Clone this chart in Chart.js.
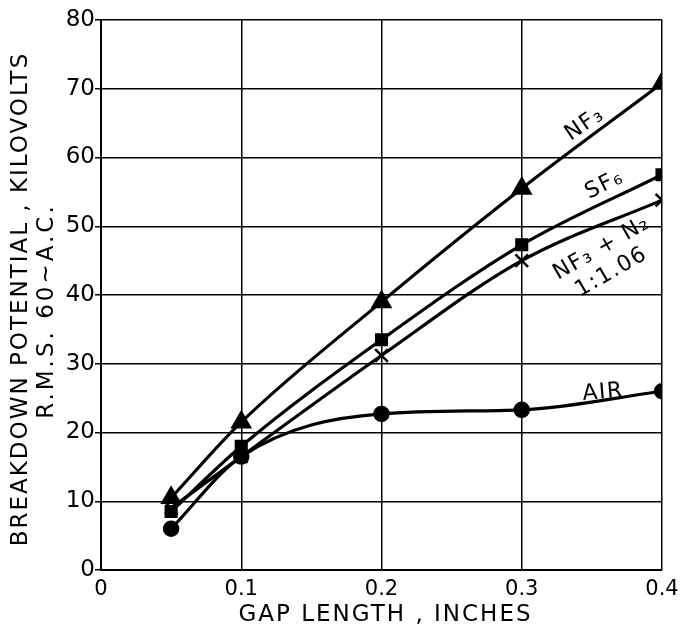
<!DOCTYPE html>
<html>
<head>
<meta charset="utf-8">
<script src="https://cdn.jsdelivr.net/npm/chart.js@4"></script>
<style>
  body { margin: 0; background: #fff; }
  #wrap { width: 682px; height: 627px; }
</style>
</head>
<body>
<div id="wrap"><canvas id="chart"></canvas></div>
<script>
// gap length, inches
var gaps = [0.05, 0.1, 0.2, 0.3, 0.4];
// breakdown potential, kV
var nf3 = [10.5, 21.5, 39.0, 55.5, 70.8];
var sf6 = [8.5, 18.0, 33.5, 47.3, 57.5];
var nf3n2 = [9.0, 16.5, 31.2, 45.0, 53.8];
var air = [6.0, 16.5, 22.7, 23.3, 26.0];

var xTicks = [0, 0.1, 0.2, 0.3, 0.4];
var yTicks = [0, 10, 20, 30, 40, 50, 60, 70, 80];

function pts(ys) {
  return gaps.map(function (g, i) { return { x: g, y: ys[i] }; });
}

var FONT = "'DejaVu Sans', sans-serif";

// curve labels, drawn at data positions
var curveLabels = [
  { text: "NF₃", x: 0.345, y: 64.8, rot: -34 },
  { text: "SF₆", x: 0.359, y: 56.0, rot: -26 },
  { text: "NF₃ + N₂", x: 0.357, y: 46.8, rot: -30 },
  { text: "1:1.06", x: 0.364, y: 43.3, rot: -30 },
  { text: "AIR", x: 0.358, y: 25.8, rot: -5 }
];

// axis titles + curve labels drawn by hand (need letter spacing)
var textPlugin = {
  id: "texts",
  afterDatasetsDraw: function (chart) {
    var ctx = chart.ctx;
    var xs = chart.scales.x, ys = chart.scales.y;
    var area = chart.chartArea;
    ctx.save();
    ctx.fillStyle = "#000";
    ctx.textAlign = "center";
    ctx.textBaseline = "middle";
    ctx.letterSpacing = "1.5px";
    ctx.font = "22px " + FONT;
    curveLabels.forEach(function (l) {
      ctx.save();
      ctx.translate(xs.getPixelForValue(l.x), ys.getPixelForValue(l.y));
      ctx.rotate(l.rot * Math.PI / 180);
      ctx.fillText(l.text, 0, 0);
      ctx.restore();
    });

    ctx.letterSpacing = "2px";
    ctx.font = "23px " + FONT;
    ctx.fillText("GAP LENGTH , INCHES", (area.left + area.right) / 2 + 4, 615);

    ctx.save();
    ctx.translate(21, 299);
    ctx.rotate(-Math.PI / 2);
    ctx.fillText("BREAKDOWN POTENTIAL , KILOVOLTS", 0, 0);
    ctx.restore();

    ctx.save();
    ctx.translate(47, 311);
    ctx.rotate(-Math.PI / 2);
    ctx.letterSpacing = "3px";
    ctx.fillText("R.M.S. 60~A.C.", 0, 0);
    ctx.restore();
    ctx.restore();
  }
};

function series(label, ys, style, r) {
  return {
    label: label,
    data: pts(ys),
    borderColor: "#000",
    backgroundColor: "#000",
    borderWidth: 3.2,
    pointStyle: style,
    pointRadius: r,
    pointBorderWidth: 2.5,
    cubicInterpolationMode: "monotone",
    fill: false
  };
}

new Chart(document.getElementById("chart"), {
  type: "line",
  data: {
    datasets: [
      series("NF3", nf3, "triangle", 10),
      series("SF6", sf6, "rect", 7.5),
      series("NF3 + N2 1:1.06", nf3n2, "crossRot", 9),
      series("AIR", air, "circle", 7)
    ]
  },
  options: {
    responsive: true,
    maintainAspectRatio: false,
    animation: false,
    layout: { padding: { top: 20, right: 20, left: 0, bottom: 0 } },
    plugins: {
      legend: { display: false },
      tooltip: { enabled: false }
    },
    scales: {
      x: {
        type: "linear",
        min: 0,
        max: 0.4,
        afterBuildTicks: function (s) { s.ticks = xTicks.map(function (v) { return { value: v }; }); },
        afterFit: function (s) {
          s.height = 57;
          s.paddingLeft = 0;
          s.paddingRight = 0;
        },
        ticks: {
          color: "#000",
          font: { family: FONT, size: 21 },
          padding: 7,
          maxRotation: 0,
          callback: function (v) { return v === 0 ? "0" : v.toFixed(1); }
        },
        grid: { color: "#000", lineWidth: 1.5, drawTicks: false },
        border: { color: "#000", width: 2 }
      },
      y: {
        min: 0,
        max: 80,
        afterBuildTicks: function (s) { s.ticks = yTicks.map(function (v) { return { value: v }; }); },
        afterFit: function (s) {
          s.width = 101;
          s.paddingTop = 0;
          s.paddingBottom = 0;
        },
        ticks: {
          color: "#000",
          font: { family: FONT, size: 23 },
          padding: 0
        },
        grid: { color: "#000", lineWidth: 1.5, tickLength: 6 },
        border: { color: "#000", width: 2 }
      }
    }
  },
  plugins: [textPlugin]
});
</script>
</body>
</html>
